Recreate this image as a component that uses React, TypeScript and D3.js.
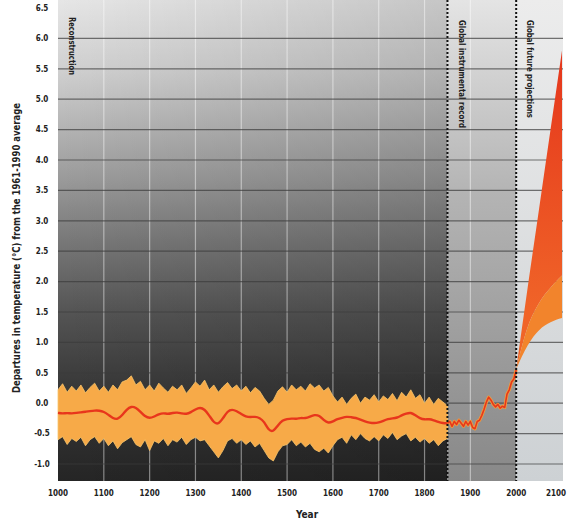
import React from "react";
import * as d3 from "d3";

// reconstruction 1000-1850, every 10 years
const reconYears = d3.range(1000, 1851, 10);
const reconMean = [
  -0.16, -0.17, -0.16, -0.17, -0.16, -0.15, -0.14, -0.13, -0.12, -0.12,
  -0.14, -0.19, -0.25, -0.27, -0.2, -0.1, -0.05, -0.07, -0.14, -0.22,
  -0.25, -0.22, -0.18, -0.16, -0.18, -0.16, -0.15, -0.17, -0.18, -0.15,
  -0.1, -0.07, -0.1, -0.2, -0.32, -0.35, -0.25, -0.13, -0.1, -0.13,
  -0.18, -0.22, -0.23, -0.22, -0.24, -0.3, -0.45, -0.47, -0.36, -0.28,
  -0.26, -0.25, -0.26, -0.24, -0.25, -0.22, -0.19, -0.2, -0.28, -0.33,
  -0.3, -0.26, -0.24, -0.22, -0.23, -0.24, -0.27, -0.3, -0.32, -0.33,
  -0.32, -0.29, -0.26, -0.25, -0.24, -0.2, -0.17, -0.15, -0.2, -0.25,
  -0.27, -0.26, -0.28, -0.31, -0.33, -0.33,
];
const reconUpper = [
  0.22, 0.32, 0.18, 0.28, 0.2, 0.3, 0.17, 0.26, 0.33, 0.2,
  0.28, 0.18, 0.3, 0.22, 0.35, 0.38, 0.45, 0.3, 0.36, 0.22,
  0.3, 0.2, 0.33, 0.25, 0.18, 0.28, 0.22, 0.3, 0.16, 0.25,
  0.35, 0.28, 0.38, 0.22, 0.3, 0.18, 0.27, 0.34, 0.24, 0.3,
  0.2, 0.28, 0.17, 0.26, 0.2, 0.08, -0.02, 0.05, 0.2, 0.27,
  0.18, 0.3, 0.22, 0.28, 0.2, 0.32, 0.25, 0.3, 0.2, 0.26,
  0.12, 0.02, 0.1, -0.02, 0.08, 0.15, 0.0, 0.1, 0.05, 0.14,
  0.02, 0.12, 0.06, 0.16, 0.04, 0.18, 0.1, 0.22, 0.08, 0.14,
  0.0, 0.1, -0.02, 0.08, 0.02, -0.04,
];
const reconLower = [
  -0.6, -0.55, -0.68, -0.58, -0.63, -0.56, -0.7, -0.6, -0.55, -0.66,
  -0.58, -0.7, -0.62, -0.75, -0.65, -0.6, -0.55, -0.68, -0.72, -0.6,
  -0.78, -0.62, -0.66, -0.58, -0.7, -0.6, -0.64, -0.56, -0.68, -0.6,
  -0.56, -0.62, -0.6, -0.7, -0.8, -0.9, -0.78, -0.62, -0.58, -0.66,
  -0.6, -0.68, -0.62, -0.72, -0.66, -0.78, -0.9, -0.95, -0.8, -0.7,
  -0.68, -0.6, -0.7, -0.64, -0.72, -0.66, -0.76, -0.8, -0.74, -0.82,
  -0.7, -0.6, -0.56, -0.66, -0.52, -0.6, -0.5, -0.58, -0.62, -0.55,
  -0.62, -0.52, -0.58, -0.48, -0.6, -0.54, -0.5, -0.62, -0.56, -0.64,
  -0.58, -0.66, -0.6, -0.7, -0.62, -0.58,
];

// instrumental record 1850-2000, every 5 years
const instrYears = d3.range(1850, 2001, 5);
const instrValues = [
  -0.33, -0.3, -0.38, -0.3, -0.35, -0.28, -0.33, -0.38, -0.3, -0.36,
  -0.3, -0.4, -0.42, -0.3, -0.28, -0.2, -0.1, 0.02, 0.1, 0.05,
  -0.02, -0.06, -0.02, -0.08, -0.05, -0.07, 0.15, 0.22, 0.35, 0.4, 0.55,
];

// projections 2000-2100
const projYears = [2000, 2025, 2050, 2075, 2100];
const projUpper = [0.56, 1.9, 3.2, 4.5, 5.8];
const projMiddle = [0.56, 1.25, 1.65, 1.9, 2.1];
const projLower = [0.56, 0.95, 1.2, 1.33, 1.4];

const yTicks = [6.5, 6.0, 5.5, 5.0, 4.5, 4.0, 3.5, 3.0, 2.5, 2.0, 1.5, 1.0, 0.5, 0.0, -0.5, -1.0];
const xTicks = [1000, 1100, 1200, 1300, 1400, 1500, 1600, 1700, 1800, 1900, 2000, 2100];
const gridY = [6.0, 5.5, 5.0, 4.5, 4.0, 3.5, 3.0, 2.5, 2.0, 1.5, 1.0, 0.5, 0.0, -0.5, -1.0];
const gridX = [1100, 1200, 1300, 1400, 1500, 1600, 1700, 1800, 1900];

const W = 570;
const H = 523;
const plotTop = 0;
const plotBottom = 481;
const font = "'Liberation Sans Narrow', 'DejaVu Sans Condensed', 'Liberation Sans', sans-serif";

const App = () => {
  const x = d3.scaleLinear().domain([1000, 2100]).range([58, 562]);
  const y = d3.scaleLinear().domain([-1.0, 6.5]).range([464, 8]);

  const band = d3
    .area<number>()
    .x((d, i) => x(reconYears[i]))
    .y0((d, i) => y(reconLower[i]))
    .y1((d) => y(d));
  const line = d3
    .line<number>()
    .x((d, i) => x(reconYears[i]))
    .y((d) => y(d))
    .curve(d3.curveBasis);
  const instrLine = d3
    .line<number>()
    .x((d, i) => x(instrYears[i]))
    .y((d) => y(d));
  const fanTop = d3
    .area<number>()
    .x((d, i) => x(projYears[i]))
    .y0((d, i) => y(projMiddle[i]))
    .y1((d) => y(d))
    .curve(d3.curveMonotoneX);
  const fanLow = d3
    .area<number>()
    .x((d, i) => x(projYears[i]))
    .y0((d, i) => y(projLower[i]))
    .y1((d) => y(d))
    .curve(d3.curveMonotoneX);

  const x0 = x(1000);
  const x1 = x(1850);
  const x2 = x(2000);
  const x3 = x(2100) + 1;

  return (
    <svg width={W} height={H} style={{ position: "absolute", left: 0, top: 0, background: "#fff" }}>
      <defs>
        <linearGradient id="recon" gradientUnits="userSpaceOnUse" x1="0" y1={plotTop} x2="0" y2={plotBottom}>
          <stop offset="0" stopColor="#e6e6e6" />
          <stop offset="0.15" stopColor="#cfcfcf" />
          <stop offset="0.35" stopColor="#a0a0a0" />
          <stop offset="0.5" stopColor="#787878" />
          <stop offset="0.65" stopColor="#545454" />
          <stop offset="0.8" stopColor="#393939" />
          <stop offset="1" stopColor="#252525" />
        </linearGradient>
        <linearGradient id="shade" x1="0" y1="0" x2="1" y2="0">
          <stop offset="0" stopColor="#000" stopOpacity={0} />
          <stop offset="1" stopColor="#000" stopOpacity={0.14} />
        </linearGradient>
        <linearGradient id="instr" gradientUnits="userSpaceOnUse" x1="0" y1={plotTop} x2="0" y2={plotBottom}>
          <stop offset="0" stopColor="#e4e4e4" />
          <stop offset="0.4" stopColor="#b4b4b4" />
          <stop offset="1" stopColor="#888888" />
        </linearGradient>
        <linearGradient id="future" gradientUnits="userSpaceOnUse" x1="0" y1={plotTop} x2="0" y2={plotBottom}>
          <stop offset="0" stopColor="#ececec" />
          <stop offset="1" stopColor="#cdd1d4" />
        </linearGradient>
        <linearGradient id="fan" gradientUnits="userSpaceOnUse" x1="0" y1={y(5.8)} x2="0" y2={y(1.5)}>
          <stop offset="0" stopColor="#e5361c" />
          <stop offset="1" stopColor="#f06428" />
        </linearGradient>
      </defs>

      <rect x={x0} y={plotTop} width={x1 - x0} height={plotBottom - plotTop} fill="url(#recon)" />
      <rect x={x0} y={plotTop} width={x1 - x0} height={plotBottom - plotTop} fill="url(#shade)" />
      <rect x={x1} y={plotTop} width={x2 - x1} height={plotBottom - plotTop} fill="url(#instr)" />
      <rect x={x2} y={plotTop} width={x3 - x2} height={plotBottom - plotTop} fill="url(#future)" />

      {gridX.map((g) => (
        <line key={g} x1={x(g)} x2={x(g)} y1={plotTop} y2={plotBottom} stroke="#ffffff" strokeOpacity={0.45} strokeWidth={1.2} />
      ))}
      {gridY.map((g) => (
        <line key={g} x1={x0} x2={x3} y1={y(g)} y2={y(g)} stroke="#3c3c3c" strokeOpacity={0.7} strokeWidth={1.2} />
      ))}

      <path d={band(reconUpper) || ""} fill="#f7aa48" stroke="#f8c46a" strokeWidth={0.8} />
      <path d={line(reconMean) || ""} fill="none" stroke="#e8361c" strokeWidth={2.4} />

      <path d={fanTop(projUpper) || ""} fill="url(#fan)" />
      <path d={fanLow(projMiddle) || ""} fill="#f2842c" />

      <path d={instrLine(instrValues) || ""} fill="none" stroke="#f49a3a" strokeWidth={3.2} strokeLinejoin="round" />
      <path d={instrLine(instrValues) || ""} fill="none" stroke="#e5381c" strokeWidth={1.6} strokeLinejoin="round" />

      <line x1={x1} x2={x1} y1={plotTop} y2={plotBottom} stroke="#111" strokeWidth={2} strokeDasharray="2,2" />
      <line x1={x2} x2={x2} y1={plotTop} y2={plotBottom} stroke="#111" strokeWidth={2} strokeDasharray="2,2" />

      <g fontFamily={font} fontWeight="bold" fill="#222">
        {yTicks.map((t) => (
          <text key={t} x={42} y={y(t)} dy="0.35em" textAnchor="middle" fontSize={8}>
            {t.toFixed(1)}
          </text>
        ))}
        {xTicks.map((t) => (
          <text key={t} x={Math.min(x(t), 556)} y={496} textAnchor="middle" fontSize={8}>
            {t}
          </text>
        ))}
        <text x={307} y={518} textAnchor="middle" fontSize={10}>Year</text>
        <text
          transform={`translate(20, 248) rotate(-90)`}
          textAnchor="middle"
          fontSize={10}
          textLength={290}
          lengthAdjust="spacingAndGlyphs"
        >
          Departures in temperature (°C) from the 1961-1990 average
        </text>
        <text transform={`translate(69, 17) rotate(90)`} fontSize={9} textLength={58} lengthAdjust="spacingAndGlyphs">
          Reconstruction
        </text>
        <text transform={`translate(459, 20) rotate(90)`} fontSize={9} textLength={108} lengthAdjust="spacingAndGlyphs">
          Global instrumental record
        </text>
        <text transform={`translate(527, 20) rotate(90)`} fontSize={9} textLength={98} lengthAdjust="spacingAndGlyphs">
          Global future projections
        </text>
      </g>
    </svg>
  );
};

export default App;
